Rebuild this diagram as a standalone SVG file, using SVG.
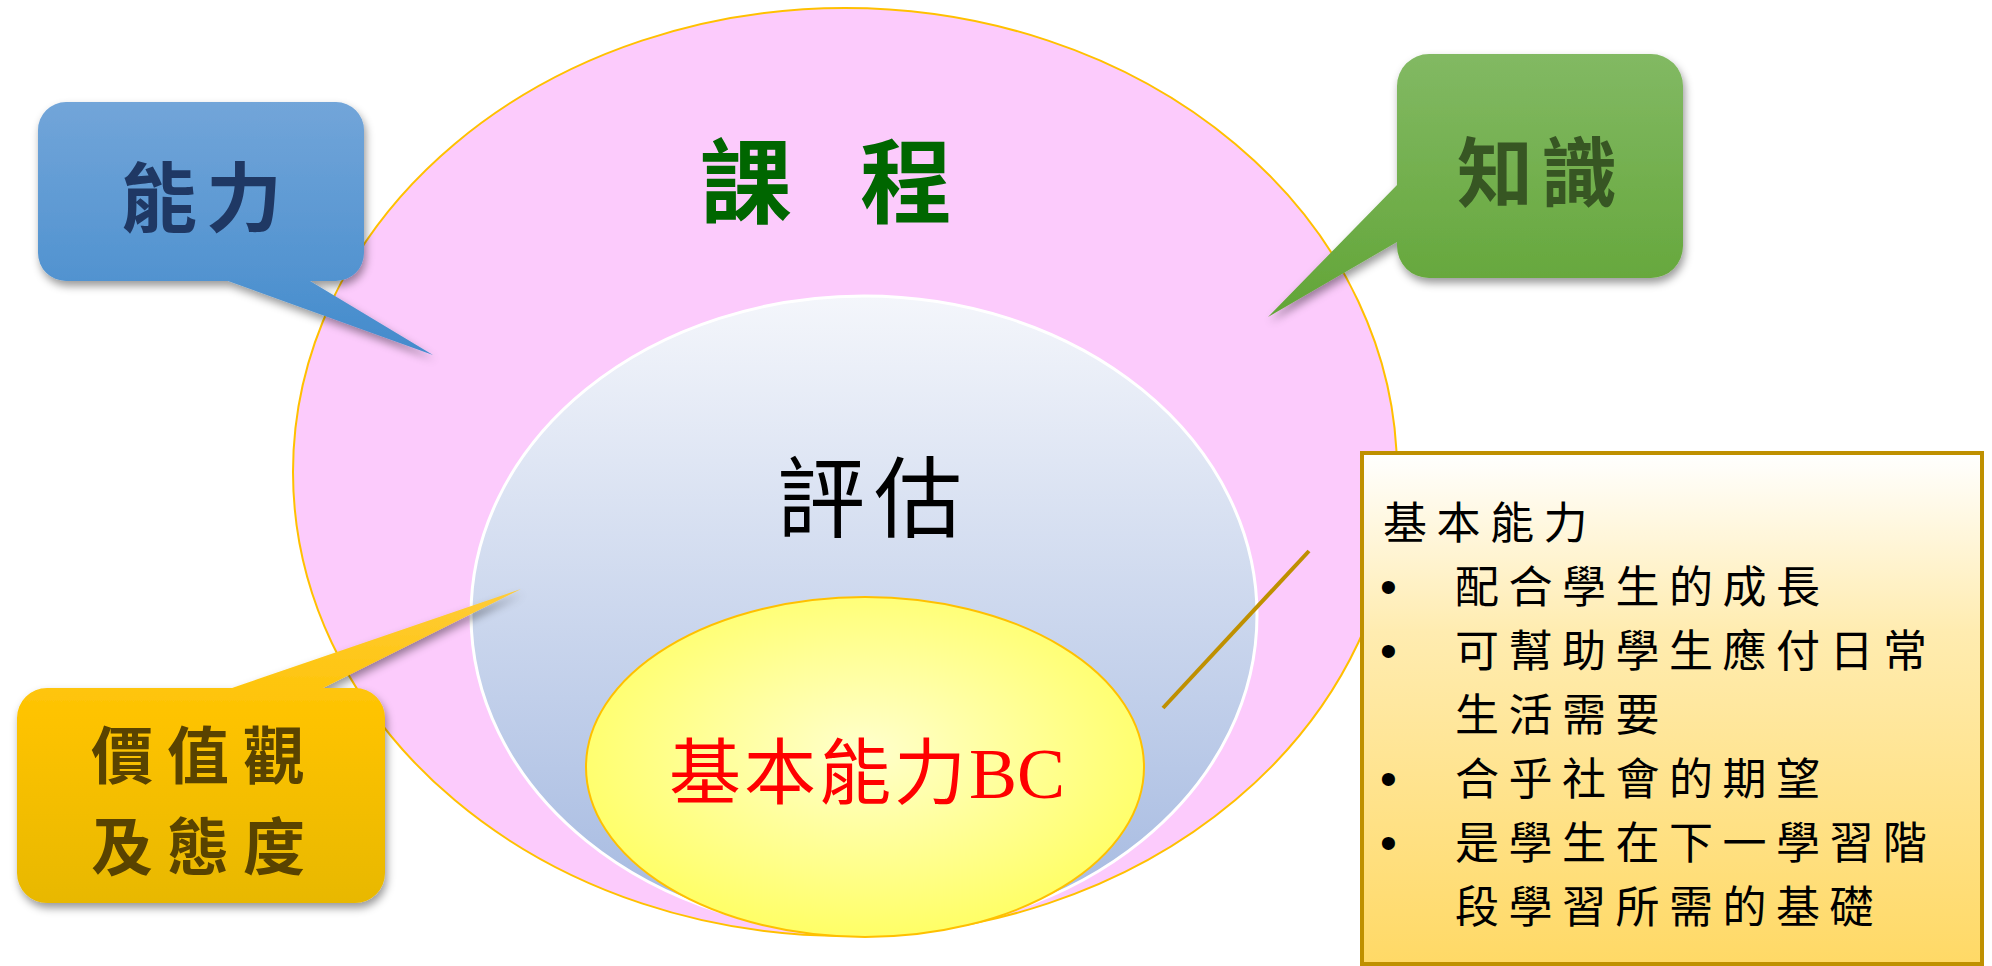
<svg xmlns="http://www.w3.org/2000/svg" width="1992" height="966" viewBox="0 0 1992 966">
<style>
.cjk{font-family:"Noto Sans CJK TC","Noto Sans CJK SC",sans-serif}
.callout-text{font-weight:700}
.box-text{font-size:44px;fill:#000}
.ls{letter-spacing:9.5px}
.bullet{font-family:"Liberation Sans",sans-serif;font-size:48px;letter-spacing:0}
</style>
<defs>
<filter id="shadow" x="-20%" y="-20%" width="140%" height="150%">
<feDropShadow dx="2" dy="5" stdDeviation="4" flood-color="#000" flood-opacity="0.4"/>
</filter>
<linearGradient id="gBlueCallout" gradientUnits="userSpaceOnUse" x1="0" y1="102" x2="0" y2="355">
<stop offset="0" stop-color="#72A5D9"/>
<stop offset="1" stop-color="#438BCC"/>
</linearGradient>
<linearGradient id="gGreenCallout" gradientUnits="userSpaceOnUse" x1="0" y1="54" x2="0" y2="317">
<stop offset="0" stop-color="#82B963"/>
<stop offset="1" stop-color="#62A537"/>
</linearGradient>
<linearGradient id="gOrangeCallout" gradientUnits="userSpaceOnUse" x1="0" y1="589" x2="0" y2="903">
<stop offset="0" stop-color="#FFCC3A"/>
<stop offset="0.4" stop-color="#FEC300"/>
<stop offset="1" stop-color="#E8B800"/>
</linearGradient>
<linearGradient id="gBlueEllipse" x1="0" y1="0" x2="0" y2="1">
<stop offset="0" stop-color="#F4F6FB"/>
<stop offset="1" stop-color="#A3B8E0"/>
</linearGradient>
<radialGradient id="gYellow" cx="0.5" cy="0.45" r="0.55">
<stop offset="0" stop-color="#FFFFCC"/>
<stop offset="1" stop-color="#FFFF66"/>
</radialGradient>
<linearGradient id="gBox" x1="0" y1="0" x2="0" y2="1">
<stop offset="0" stop-color="#FFFFFF"/>
<stop offset="0.35" stop-color="#FFECB0"/>
<stop offset="1" stop-color="#FFD966"/>
</linearGradient>
</defs>

<g id="curriculum">
<ellipse cx="845" cy="472" rx="552" ry="464" fill="#FCCBFC" stroke="#FFC000" stroke-width="2"/>
<text class="cjk" x="700" y="216" font-size="92" font-weight="700" fill="#006600" letter-spacing="23.5">課 程</text>
</g>

<g id="assessment">
<ellipse cx="864" cy="615" rx="393" ry="319" fill="url(#gBlueEllipse)" stroke="#FFFFFF" stroke-width="3"/>
<text class="cjk" x="777" y="530" font-size="88" fill="#000" letter-spacing="9">評估</text>
</g>

<g id="basic-competencies">
<ellipse cx="865" cy="767" rx="279" ry="170" fill="url(#gYellow)" stroke="#FFC000" stroke-width="2"/>
<text x="669" y="798" font-size="72" fill="#FF0000"><tspan class="cjk" letter-spacing="3">基本能力</tspan><tspan font-family="Liberation Serif, serif">BC</tspan></text>
</g>

<g id="ability-callout" filter="url(#shadow)">
<path d="M 66,102 H 336 A 28 28 0 0 1 364 130 V 253 A 28 28 0 0 1 336 281 H 310 L 433 355 L 228 281 H 66 A 28 28 0 0 1 38 253 V 130 A 28 28 0 0 1 66 102 Z" fill="url(#gBlueCallout)"/>
</g>
<g id="ability-label">
<text class="cjk callout-text" x="121" y="226" font-size="76" fill="#1F3864" letter-spacing="9">能力</text>
</g>

<g id="knowledge-callout" filter="url(#shadow)">
<path d="M 1429,54 H 1651 A 32 32 0 0 1 1683 86 V 246 A 32 32 0 0 1 1651 278 H 1429 A 32 32 0 0 1 1397 246 V 242 L 1268 317 L 1397 185 V 86 A 32 32 0 0 1 1429 54 Z" fill="url(#gGreenCallout)"/>
</g>
<g id="knowledge-label">
<text class="cjk callout-text" x="1457" y="201" font-size="76" fill="#375623" letter-spacing="8">知識</text>
</g>

<g id="values-callout" filter="url(#shadow)">
<path d="M 47,688 H 232 L 521 589 L 323 688 H 355 A 30 30 0 0 1 385 718 V 873 A 30 30 0 0 1 355 903 H 47 A 30 30 0 0 1 17 873 V 718 A 30 30 0 0 1 47 688 Z" fill="url(#gOrangeCallout)"/>
</g>
<g id="values-label">
<text class="cjk callout-text" font-size="62" fill="#594300" letter-spacing="14"><tspan x="91" y="779">價值觀</tspan><tspan x="91" y="870">及態度</tspan></text>
</g>

<g id="connectors">
<line x1="1309" y1="551" x2="1163" y2="708" stroke="#BF9000" stroke-width="4"/>
</g>

<g id="description-box">
<rect x="1362" y="453" width="620" height="511" fill="url(#gBox)" stroke="#BF9000" stroke-width="4"/>
<text class="cjk box-text"><tspan class="ls" x="1383" y="539">基本能力</tspan><tspan class="bullet" x="1380" y="603">•</tspan><tspan class="ls" x="1455" y="603">配合學生的成長</tspan><tspan class="bullet" x="1380" y="667">•</tspan><tspan class="ls" x="1455" y="667">可幫助學生應付日常</tspan><tspan class="ls" x="1455" y="731">生活需要</tspan><tspan class="bullet" x="1380" y="795">•</tspan><tspan class="ls" x="1455" y="795">合乎社會的期望</tspan><tspan class="bullet" x="1380" y="859">•</tspan><tspan class="ls" x="1455" y="859">是學生在下一學習階</tspan><tspan class="ls" x="1455" y="923">段學習所需的基礎</tspan></text>
</g>
</svg>
